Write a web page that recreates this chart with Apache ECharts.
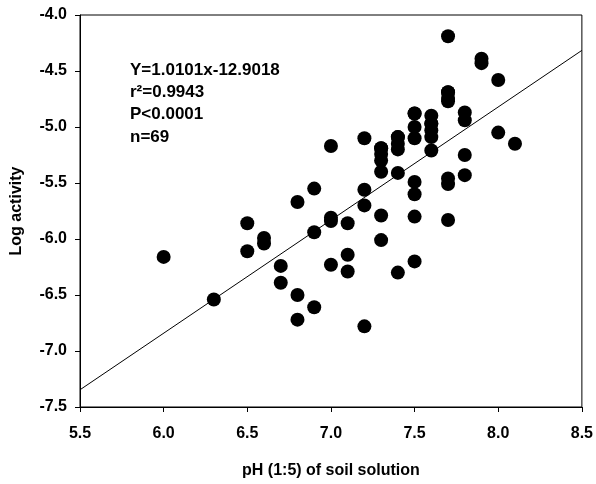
<!DOCTYPE html>
<html><head><meta charset="utf-8">
<script src="https://cdn.jsdelivr.net/npm/echarts@6/dist/echarts.min.js"></script>
<style>html,body{margin:0;padding:0;background:#fff;overflow:hidden;width:100%;height:100%}#c{width:100vw;height:100vh}</style>
</head><body><div id="c"></div>
<script>
const phValues = [6.0,6.3,6.5,6.5,6.6,6.6,6.7,6.7,6.8,6.8,6.8,6.9,6.9,6.9,7.0,7.0,7.0,7.0,7.1,7.1,7.1,7.2,7.2,7.2,7.2,7.3,7.3,7.3,7.3,7.3,7.3,7.4,7.4,7.4,7.4,7.4,7.5,7.5,7.5,7.5,7.5,7.5,7.5,7.6,7.6,7.6,7.6,7.6,7.7,7.7,7.7,7.7,7.7,7.7,7.7,7.8,7.8,7.8,7.8,7.9,7.9,8.0,8.0,8.1,7.5,7.6,7.3,7.4,7.7];
const logActivity = [-6.16,-6.54,-5.86,-6.11,-5.99,-6.04,-6.24,-6.39,-5.67,-6.50,-6.72,-5.55,-5.94,-6.61,-5.17,-5.81,-5.84,-6.23,-5.86,-6.14,-6.29,-5.10,-5.56,-5.70,-6.78,-5.19,-5.24,-5.30,-5.40,-5.79,-6.01,-5.09,-5.15,-5.20,-5.41,-6.30,-4.88,-5.00,-5.10,-5.49,-5.60,-5.80,-6.20,-4.90,-4.97,-5.03,-5.09,-5.21,-4.19,-4.69,-4.74,-4.77,-5.46,-5.51,-5.83,-4.87,-4.94,-5.25,-5.43,-4.39,-4.43,-4.58,-5.05,-5.15,-4.88,-4.97,-5.19,-5.09,-4.69];
const regression = [1.0101, -12.9018]; // slope, intercept
const xTicks = [5.5, 8.5, 0.5]; // min, max, interval
const yTicks = [-7.5, -4.0, 0.5];
const annotation = ['Y=1.0101x-12.9018', 'r²=0.9943', 'P<0.0001', 'n=69'];

const pts = phValues.map((x,i)=>[x, logActivity[i]]);
const linePts = [xTicks[0], xTicks[1]].map(x=>[x, regression[0]*x + regression[1]]);

const font = 'Liberation Sans, Arial, sans-serif';
const chart = echarts.init(document.getElementById('c'));
chart.setOption({
  animation:false,
  grid:{left:80,right:13,top:15,bottom:72,show:true,borderColor:'#000',borderWidth:1},
  xAxis:{type:'value',min:xTicks[0],max:xTicks[1],interval:xTicks[2],
    name:'pH (1:5) of soil solution',nameLocation:'middle',nameGap:56,
    nameTextStyle:{fontFamily:font,fontWeight:'bold',fontSize:16,color:'#000'},
    axisLine:{lineStyle:{color:'#000',width:1}},
    axisTick:{show:true,inside:false,length:5,lineStyle:{color:'#000'}},
    axisLabel:{fontFamily:font,fontWeight:'bold',fontSize:16,color:'#000',margin:19,formatter:v=>v.toFixed(1)},
    splitLine:{show:false}},
  yAxis:{type:'value',min:yTicks[0],max:yTicks[1],interval:yTicks[2],
    name:'Log activity',nameLocation:'middle',nameGap:55,nameRotate:90,
    nameTextStyle:{fontFamily:font,fontWeight:'bold',fontSize:16,color:'#000'},
    axisLine:{show:true,lineStyle:{color:'#000',width:1}},
    axisTick:{show:true,inside:false,length:5,lineStyle:{color:'#000'}},
    axisLabel:{fontFamily:font,fontWeight:'bold',fontSize:16,color:'#000',margin:13,formatter:v=>v.toFixed(1)},
    splitLine:{show:false}},
  graphic:[{type:'text',left:130,top:59,style:{
    text:annotation.join('\n'),
    fontFamily:font,fontWeight:'bold',fontSize:17,fill:'#000',lineHeight:22.3
  }}],
  series:[
    {type:'line',data:linePts,symbol:'none',lineStyle:{color:'#000',width:1},silent:true,z:1},
    {type:'scatter',data:pts,symbol:'circle',symbolSize:14,itemStyle:{color:'#000',opacity:1},z:2}
  ]
});
</script></body></html>
